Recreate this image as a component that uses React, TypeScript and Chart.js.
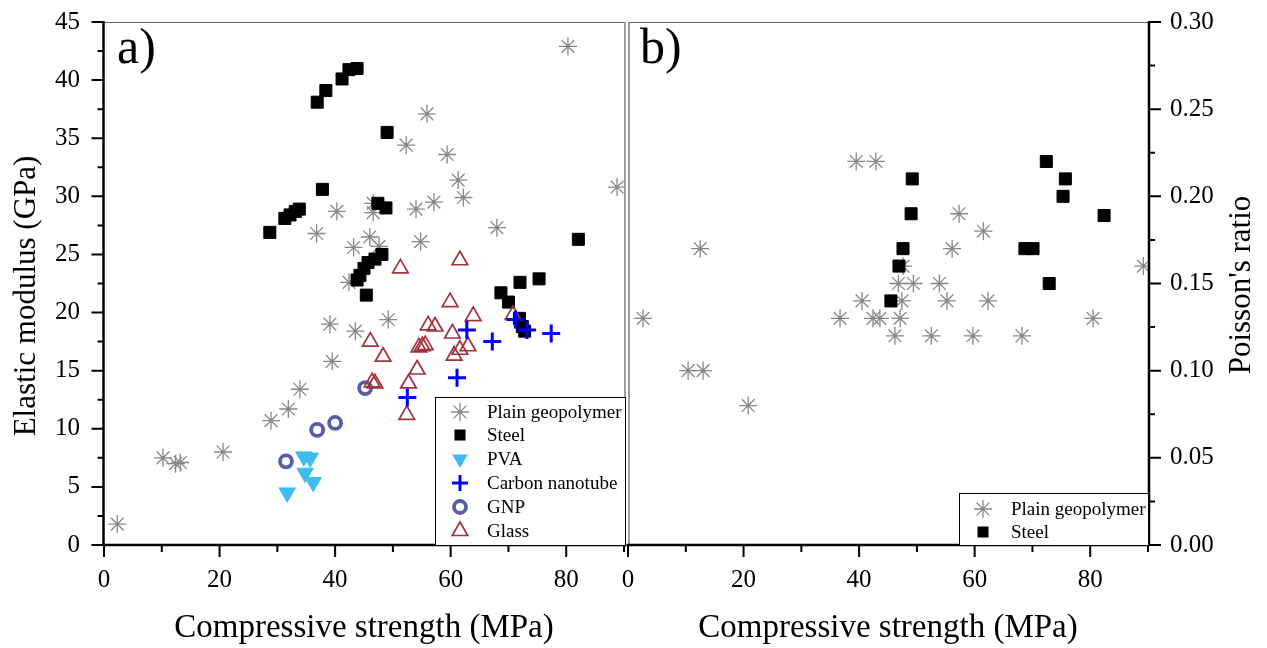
import React, { useEffect, useRef } from 'react';
import Chart from 'chart.js/auto';

const FONT = "'Liberation Serif', 'Times New Roman', serif";

// ---------- axes ----------
const X_TICKS = [0, 20, 40, 60, 80];
const X_MINOR = [10, 30, 50, 70, 90];
const E_TICKS = [0, 5, 10, 15, 20, 25, 30, 35, 40, 45];
const E_MINOR = [2.5, 7.5, 12.5, 17.5, 22.5, 27.5, 32.5, 37.5, 42.5];
const NU_TICKS = [0, 0.05, 0.1, 0.15, 0.2, 0.25, 0.3];
const NU_MINOR = [0.025, 0.075, 0.125, 0.175, 0.225, 0.275];

// ---------- panel a: compressive strength (MPa) vs elastic modulus (GPa) ----------
const plainA: [number, number][] = [
  [2.3, 1.8], [10.2, 7.5], [12.4, 7.0], [13.2, 7.1], [20.6, 8.0], [28.9, 10.7],
  [31.9, 11.7], [33.9, 13.4], [39.5, 15.8], [39.1, 19.0], [43.5, 18.4], [42.4, 22.6],
  [40.3, 28.7], [36.8, 26.8], [43.2, 25.6], [46.6, 29.4], [46.6, 28.6], [46.0, 26.5],
  [47.6, 25.7], [55.9, 37.1], [52.3, 34.4], [59.4, 33.6], [61.3, 31.4], [62.2, 29.9],
  [57.1, 29.5], [54.0, 28.9], [68.0, 27.3], [54.8, 26.1], [80.3, 42.9], [88.8, 30.8],
  [49.2, 19.4],
];
const steelA: [number, number][] = [
  [36.9, 38.1], [38.4, 39.1], [41.2, 40.1], [42.4, 40.9], [43.8, 41.0], [49.0, 35.5],
  [37.8, 30.6], [28.7, 26.9], [31.3, 28.1], [32.2, 28.4], [33.1, 28.7], [33.8, 28.9],
  [47.4, 29.4], [48.8, 29.0], [48.1, 25.0], [46.9, 24.6], [45.7, 24.3], [45.0, 23.8],
  [44.3, 23.2], [43.8, 22.8], [45.4, 21.5], [72.0, 22.6], [75.3, 22.9], [68.7, 21.7],
  [70.0, 20.9], [71.9, 19.5], [72.4, 18.8], [72.8, 18.4], [82.1, 26.3],
];
const pvaA: [number, number][] = [
  [31.7, 4.5], [34.6, 7.6], [35.7, 7.5], [34.8, 6.2], [36.2, 5.4],
];
const cntA: [number, number][] = [
  [52.5, 12.7], [61.1, 14.4], [62.8, 18.5], [67.2, 17.5], [71.2, 19.4], [73.2, 18.5], [77.4, 18.2],
];
const gnpA: [number, number][] = [
  [31.5, 7.2], [36.9, 9.9], [40.0, 10.5], [45.2, 13.5],
];
const glassA: [number, number][] = [
  [52.4, 11.2], [52.7, 13.9], [54.2, 15.1], [54.5, 17.0], [55.1, 17.1], [55.6, 17.2],
  [56.1, 18.9], [57.3, 18.8], [59.9, 20.9], [60.3, 18.2], [60.6, 16.3], [61.6, 16.8],
  [63.0, 17.1], [63.9, 19.7], [70.8, 19.8], [46.1, 17.5], [48.3, 16.2], [46.4, 14.0],
  [46.9, 13.9], [51.3, 23.8], [61.6, 24.5],
];

// ---------- panel b: compressive strength (MPa) vs Poisson's ratio ----------
const plainB: [number, number][] = [
  [2.6, 0.13], [12.5, 0.17], [10.4, 0.1], [13.0, 0.1], [20.8, 0.08], [39.5, 0.22],
  [42.9, 0.22], [36.7, 0.13], [40.5, 0.14], [43.6, 0.13], [42.4, 0.13], [57.3, 0.19],
  [61.5, 0.18], [56.1, 0.17], [89.2, 0.16], [46.8, 0.15], [49.4, 0.15], [53.9, 0.15],
  [47.4, 0.14], [55.2, 0.14], [62.3, 0.14], [47.1, 0.13], [46.2, 0.12], [52.5, 0.12],
  [59.7, 0.12], [68.2, 0.12], [80.5, 0.13], [47.6, 0.16],
];
const steelB: [number, number][] = [
  [72.4, 0.22], [49.2, 0.21], [75.7, 0.21], [75.3, 0.2], [49.0, 0.19], [82.4, 0.189],
  [47.6, 0.17], [68.7, 0.17], [70.1, 0.17], [46.9, 0.16], [72.9, 0.15], [45.5, 0.14],
];

const NAMES_A = ['Plain geopolymer', 'Steel', 'PVA', 'Carbon nanotube', 'GNP', 'Glass'];
const NAMES_B = ['Plain geopolymer', 'Steel'];
const X_TITLE = 'Compressive strength (MPa)';
const E_TITLE = 'Elastic modulus (GPa)';
const NU_TITLE = "Poisson's ratio";

// ---------- styles ----------
type Sym = { kind: string; color: string; fill: boolean; lw: number; r: number; rot: number };
const STY: Record<string, Sym> = {
  plain: { kind: 'star', color: '#888888', fill: false, lw: 1.3, r: 9, rot: 0 },
  steel: { kind: 'rect', color: '#000000', fill: true, lw: 1, r: 8.5, rot: 0 },
  pva: { kind: 'triangle', color: '#3dbdee', fill: true, lw: 1, r: 9.5, rot: 180 },
  cnt: { kind: 'cross', color: '#0000ff', fill: false, lw: 3, r: 9, rot: 0 },
  gnp: { kind: 'circle', color: '#5a5ca8', fill: false, lw: 3.8, r: 6, rot: 0 },
  glass: { kind: 'triangle', color: '#a3323d', fill: false, lw: 1.7, r: 9, rot: 0 },
};

const toPts = (a: [number, number][]) => a.map(([x, y]) => ({ x, y }));

function ds(label: string, data: [number, number][], s: Sym, order: number) {
  return {
    label,
    data: toPts(data),
    order,
    pointStyle: s.kind,
    pointRadius: s.r,
    pointHoverRadius: s.r,
    pointRotation: s.rot,
    pointBorderWidth: s.lw,
    pointHoverBorderWidth: s.lw,
    pointBorderColor: s.color,
    pointBackgroundColor: s.fill ? s.color : 'rgba(0,0,0,0)',
    borderColor: s.color,
    backgroundColor: s.fill ? s.color : 'rgba(0,0,0,0)',
    showLine: false,
  };
}

function drawSym(ctx: CanvasRenderingContext2D, s: Sym, x: number, y: number, r: number) {
  ctx.save();
  ctx.translate(x, y);
  ctx.rotate((s.rot * Math.PI) / 180);
  ctx.strokeStyle = s.color;
  ctx.fillStyle = s.color;
  ctx.lineWidth = s.lw;
  ctx.beginPath();
  if (s.kind === 'star') {
    for (let i = 0; i < 4; i++) {
      const a = (i * Math.PI) / 4;
      ctx.moveTo(Math.cos(a) * r, Math.sin(a) * r);
      ctx.lineTo(-Math.cos(a) * r, -Math.sin(a) * r);
    }
    ctx.stroke();
  } else if (s.kind === 'rect') {
    const h = r / Math.SQRT2;
    ctx.rect(-h, -h, 2 * h, 2 * h);
    ctx.fill();
  } else if (s.kind === 'triangle') {
    for (let k = 0; k < 3; k++) {
      const a = (k * 2 * Math.PI) / 3;
      const px = Math.sin(a) * r;
      const py = -Math.cos(a) * r;
      if (k === 0) ctx.moveTo(px, py);
      else ctx.lineTo(px, py);
    }
    ctx.closePath();
    if (s.fill) ctx.fill();
    else ctx.stroke();
  } else if (s.kind === 'cross') {
    ctx.moveTo(-r, 0);
    ctx.lineTo(r, 0);
    ctx.moveTo(0, -r);
    ctx.lineTo(0, r);
    ctx.stroke();
  } else if (s.kind === 'circle') {
    ctx.arc(0, 0, r, 0, Math.PI * 2);
    ctx.stroke();
  }
  ctx.restore();
}

type LegendSpec = {
  box: [number, number, number, number];
  symX: number;
  textX: number;
  rows: number[];
  items: { sym: Sym; text: string; r: number }[];
};

function framePlugin(
  side: 'left' | 'right',
  label: string,
  labelX: number,
  yMajor: number[],
  yMinor: number[],
  legend: LegendSpec,
  yTitle: { x: number; y: number; text: string }
) {
  return {
    id: 'frame' + side,
    afterDraw(chart: any) {
      const ctx: CanvasRenderingContext2D = chart.ctx;
      const { left, right, top, bottom } = chart.chartArea;
      const xs = chart.scales.x;
      const ys = chart.scales.y;
      ctx.save();
      // thin grey frame sides
      ctx.strokeStyle = '#666';
      ctx.lineWidth = 1.2;
      ctx.beginPath();
      ctx.moveTo(left, top + 0.5);
      ctx.lineTo(right + 1, top + 0.5);
      ctx.stroke();
      ctx.strokeStyle = '#888';
      ctx.lineWidth = 1.6;
      ctx.beginPath();
      if (side === 'left') {
        ctx.moveTo(right + 1, top);
        ctx.lineTo(right + 1, bottom);
      } else {
        ctx.moveTo(left + 1, top);
        ctx.lineTo(left + 1, bottom);
      }
      ctx.stroke();
      // black axes
      ctx.strokeStyle = '#000';
      ctx.lineWidth = 2.5;
      ctx.beginPath();
      const ax = side === 'left' ? left - 0.5 : right + 1;
      ctx.moveTo(ax, top - 1);
      ctx.lineTo(ax, bottom + 1);
      ctx.moveTo(left - 1.5, bottom);
      ctx.lineTo(right + 2, bottom);
      ctx.stroke();
      // ticks
      ctx.lineWidth = 2;
      ctx.beginPath();
      X_TICKS.forEach((v) => {
        const p = xs.getPixelForValue(v);
        ctx.moveTo(p, bottom);
        ctx.lineTo(p, bottom + 12);
      });
      X_MINOR.forEach((v) => {
        const p = xs.getPixelForValue(v);
        ctx.moveTo(p, bottom);
        ctx.lineTo(p, bottom + 7);
      });
      const dir = side === 'left' ? -1 : 1;
      yMajor.forEach((v) => {
        const p = ys.getPixelForValue(v);
        ctx.moveTo(ax, p);
        ctx.lineTo(ax + dir * 12, p);
      });
      yMinor.forEach((v) => {
        const p = ys.getPixelForValue(v);
        ctx.moveTo(ax, p);
        ctx.lineTo(ax + dir * 6, p);
      });
      ctx.stroke();
      // panel label
      ctx.fillStyle = '#000';
      ctx.font = `50px ${FONT}`;
      ctx.textAlign = 'left';
      ctx.textBaseline = 'alphabetic';
      ctx.fillText(label, labelX, 63);
      // legend
      const [x0, y0, x1, y1] = legend.box;
      ctx.fillStyle = '#fff';
      ctx.fillRect(x0, y0, x1 - x0, y1 - y0);
      ctx.strokeStyle = '#000';
      ctx.lineWidth = 1;
      ctx.strokeRect(x0 + 0.5, y0 + 0.5, x1 - x0, y1 - y0);
      ctx.font = `19px ${FONT}`;
      ctx.textBaseline = 'middle';
      legend.items.forEach((it, i) => {
        drawSym(ctx, it.sym, legend.symX, legend.rows[i], it.r);
        ctx.fillStyle = '#000';
        ctx.fillText(it.text, legend.textX, legend.rows[i] + 1);
      });
      // vertical axis title (reads bottom to top)
      ctx.save();
      ctx.translate(yTitle.x, yTitle.y);
      ctx.rotate(-Math.PI / 2);
      ctx.font = `31px ${FONT}`;
      ctx.textAlign = 'center';
      ctx.textBaseline = 'middle';
      ctx.fillStyle = '#000';
      ctx.fillText(yTitle.text, 0, 0);
      ctx.restore();
      ctx.restore();
    },
  };
}

function xScale() {
  return {
    type: 'linear',
    min: 0,
    max: 90,
    position: 'bottom',
    grid: { display: false, drawTicks: false },
    border: { display: false },
    ticks: { font: { family: FONT, size: 25 }, color: '#000', padding: 20, maxRotation: 0, autoSkip: false },
    afterBuildTicks: (s: any) => {
      s.ticks = X_TICKS.map((v) => ({ value: v }));
    },
    afterFit: (s: any) => {
      s.height = 103;
    },
    title: { display: true, text: X_TITLE, font: { family: FONT, size: 33 }, color: '#000', padding: 0 },
  };
}

function yFit(width: number) {
  return (s: any) => {
    s.width = width;
    s.paddingTop = 0;
    s.paddingBottom = 0;
  };
}

const LEFT_W = 664;
const AREA_A_RIGHT = 624;
const RIGHT_X = 600;
const RIGHT_W = 667;

function leftConfig(): any {
  const keys = ['plain', 'steel', 'pva', 'cnt', 'gnp', 'glass'];
  const datas = [plainA, steelA, pvaA, cntA, gnpA, glassA];
  const orders = [6, 5, 4, 1, 3, 2];
  return {
    type: 'scatter',
    data: { datasets: keys.map((k, i) => ds(NAMES_A[i], datas[i], STY[k], orders[i])) },
    options: {
      animation: false,
      responsive: false,
      events: [],
      layout: { padding: { top: 22, right: LEFT_W - AREA_A_RIGHT, left: 0, bottom: 0 } },
      plugins: { legend: { display: false }, tooltip: { enabled: false } },
      scales: {
        x: xScale(),
        y: {
          type: 'linear',
          min: 0,
          max: 45,
          position: 'left',
          grid: { display: false, drawTicks: false },
          border: { display: false },
          ticks: { font: { family: FONT, size: 25 }, color: '#000', padding: 24, autoSkip: false },
          afterBuildTicks: (s: any) => {
            s.ticks = E_TICKS.map((v) => ({ value: v }));
          },
          afterFit: yFit(104),
          title: { display: false },
        },
      },
    },
    plugins: [
      framePlugin(
        'left',
        'a)',
        117,
        E_TICKS,
        E_MINOR,
        {
          box: [435, 397, 625, 545],
          symX: 460,
          textX: 487,
          rows: [412, 435, 459, 483, 507, 531],
          items: keys.map((k, i) => ({
            sym: STY[k],
            text: NAMES_A[i],
            r: [9, 7.8, 9, 8, 6, 9][i],
          })),
        },
        { x: 27, y: 296, text: E_TITLE }
      ),
    ],
  };
}

function rightConfig(): any {
  const keys = ['plain', 'steel'];
  const datas = [plainB, steelB];
  return {
    type: 'scatter',
    data: { datasets: keys.map((k, i) => ds(NAMES_B[i], datas[i], STY[k], 2 - i)) },
    options: {
      animation: false,
      responsive: false,
      events: [],
      layout: { padding: { top: 22, right: 0, left: 628 - RIGHT_X, bottom: 0 } },
      plugins: { legend: { display: false }, tooltip: { enabled: false } },
      scales: {
        x: xScale(),
        y: {
          type: 'linear',
          min: 0,
          max: 0.3,
          position: 'right',
          grid: { display: false, drawTicks: false },
          border: { display: false },
          ticks: {
            font: { family: FONT, size: 25 },
            color: '#000',
            padding: 22,
            autoSkip: false,
            callback: (v: any) => Number(v).toFixed(2),
          },
          afterBuildTicks: (s: any) => {
            s.ticks = NU_TICKS.map((v) => ({ value: v }));
          },
          afterFit: yFit(RIGHT_W - (1148 - RIGHT_X)),
          title: { display: false },
        },
      },
    },
    plugins: [
      framePlugin(
        'right',
        'b)',
        640 - RIGHT_X,
        NU_TICKS,
        NU_MINOR,
        {
          box: [959 - RIGHT_X, 493, 1148 - RIGHT_X, 545],
          symX: 983 - RIGHT_X,
          textX: 1011 - RIGHT_X,
          rows: [509, 532],
          items: keys.map((k, i) => ({ sym: STY[k], text: NAMES_B[i], r: [9, 7.8][i] })),
        },
        { x: 1242 - RIGHT_X, y: 285, text: NU_TITLE }
      ),
    ],
  };
}

export default function App() {
  const leftRef = useRef<HTMLCanvasElement>(null);
  const rightRef = useRef<HTMLCanvasElement>(null);
  useEffect(() => {
    const c1 = new Chart(leftRef.current as HTMLCanvasElement, leftConfig());
    const c2 = new Chart(rightRef.current as HTMLCanvasElement, rightConfig());
    return () => {
      c1.destroy();
      c2.destroy();
    };
  }, []);
  return (
    <div style={{ position: 'absolute', left: 0, top: 0, width: 1267, height: 648, background: '#fff', overflow: 'hidden' }}>
      <canvas ref={leftRef} width={LEFT_W} height={648} style={{ position: 'absolute', left: 0, top: 0 }} />
      <canvas ref={rightRef} width={RIGHT_W} height={648} style={{ position: 'absolute', left: RIGHT_X, top: 0 }} />
    </div>
  );
}
